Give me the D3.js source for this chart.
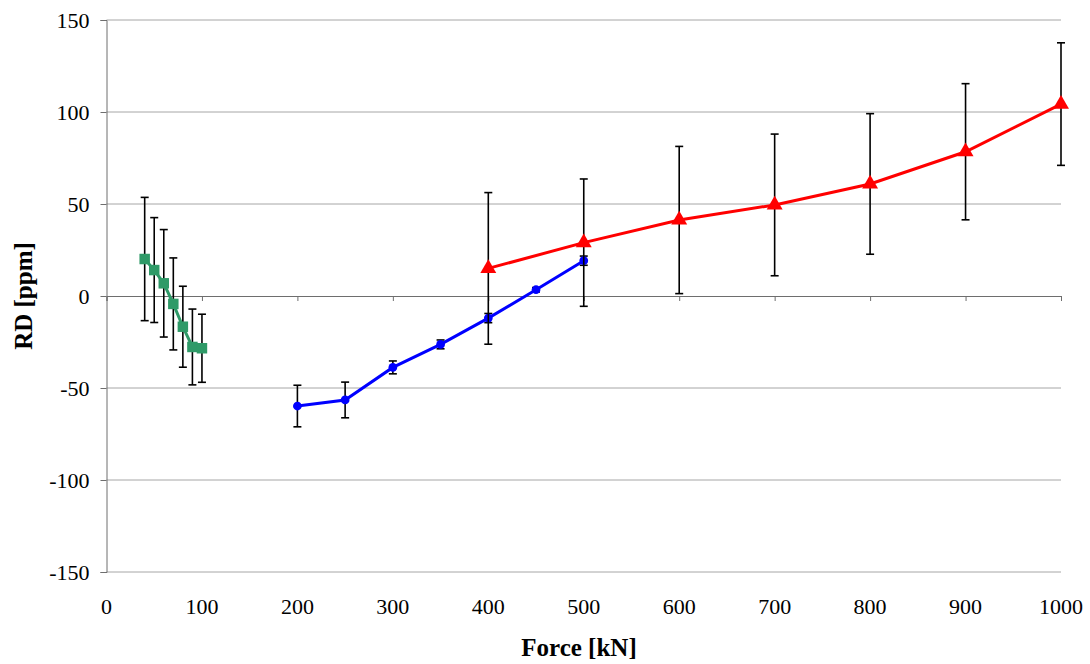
<!DOCTYPE html>
<html><head><meta charset="utf-8">
<script src="https://cdn.jsdelivr.net/npm/d3@7"></script>
<style>body{margin:0;background:#fff}svg{display:block}</style>
</head><body>
<svg id="c" width="1090" height="664"></svg>
<script>
const greenX=[40,50,60,70,80,90,100];
const greenY=[20.1,14.1,6.9,-4.3,-16.7,-27.7,-28.4];
const greenErr=[33.5,28.5,29.2,25,22,20.6,18.5];
const blueX=[200,250,300,350,400,450,500];
const blueY=[-59.8,-56.5,-38.8,-26.3,-12.0,3.4,19.2];
const blueErr=[11.3,9.7,3.5,2.4,2.5,1.2,2.5];
const redX=[400,500,600,700,800,900,1000];
const redY=[15.0,29.0,41.3,49.5,60.9,78.4,104.3];
const redErr=[41.2,34.6,40,38.5,38.2,37,33.3];
const xTicks=[0,100,200,300,400,500,600,700,800,900,1000];
const yTicks=[-150,-100,-50,0,50,100,150];

const svg=d3.select("#c");
const x=d3.scaleLinear().domain([0,1000]).range([106.5,1061]);
const y=d3.scaleLinear().domain([-150,150]).range([572,20]);
const font="'Liberation Serif','Times New Roman',serif";

// gridlines
svg.append("g").selectAll("line").data(yTicks.filter(d=>d!==0)).join("line")
  .attr("x1",x(0)).attr("x2",x(1000)).attr("y1",d=>y(d)).attr("y2",d=>y(d))
  .attr("stroke","#a6a6a6").attr("stroke-width",1);

// y axis
const ya=svg.append("g").attr("transform",`translate(${x(0)},0)`)
  .call(d3.axisLeft(y).tickValues(yTicks).tickSize(6).tickPadding(11).tickFormat(d=>String(d)));
ya.attr("font-family",font).attr("font-size",22);
ya.select(".domain").attr("stroke","#6e6e6e");
ya.selectAll(".tick line").attr("stroke","#6e6e6e");
ya.selectAll("text").attr("fill","#000");

// x axis at zero
const xa=svg.append("g").attr("transform",`translate(0,${y(0)})`)
  .call(d3.axisBottom(x).tickValues(xTicks).tickSize(5).tickFormat(""));
xa.select(".domain").attr("stroke","#6e6e6e");
xa.selectAll(".tick line").attr("stroke","#6e6e6e");
// x labels at bottom
svg.append("g").attr("font-family",font).attr("font-size",22)
  .selectAll("text").data(xTicks).join("text")
  .attr("x",d=>x(d)).attr("y",614).attr("text-anchor","middle").text(d=>d);

// titles
svg.append("text").attr("x",579).attr("y",656).attr("text-anchor","middle")
  .attr("font-family",font).attr("font-size",25).attr("font-weight","bold").text("Force [kN]");
svg.append("text").attr("transform",`translate(32,${y(0)}) rotate(-90)`).attr("text-anchor","middle")
  .attr("font-family",font).attr("font-size",25).attr("font-weight","bold").text("RD [ppm]");

function series(xs,ys,es,color,shape){
  const pts=xs.map((v,i)=>({x:v,y:ys[i],e:es[i]}));
  const g=svg.append("g");
  const eb=g.append("g").attr("stroke","#000").attr("stroke-width",1.6);
  pts.forEach(p=>{
    eb.append("line").attr("x1",x(p.x)).attr("x2",x(p.x)).attr("y1",y(p.y+p.e)).attr("y2",y(p.y-p.e));
    [p.y+p.e,p.y-p.e].forEach(v=>eb.append("line").attr("x1",x(p.x)-4).attr("x2",x(p.x)+4).attr("y1",y(v)).attr("y2",y(v)));
  });
  g.append("path").datum(pts).attr("fill","none").attr("stroke",color).attr("stroke-width",3)
    .attr("d",d3.line().x(d=>x(d.x)).y(d=>y(d.y)));
  const sym={square:[d3.symbolSquare,110],circle:[d3.symbolCircle,60],triangle:[d3.symbolTriangle,110]}[shape];
  g.append("g").selectAll("path").data(pts).join("path")
    .attr("transform",d=>`translate(${x(d.x)},${y(d.y)})`)
    .attr("d",d3.symbol().type(sym[0]).size(sym[1])).attr("fill",color);
}
series(greenX,greenY,greenErr,"#2f9a68","square");
series(blueX,blueY,blueErr,"#0000ff","circle");
series(redX,redY,redErr,"#ff0000","triangle");
</script>
</body></html>
